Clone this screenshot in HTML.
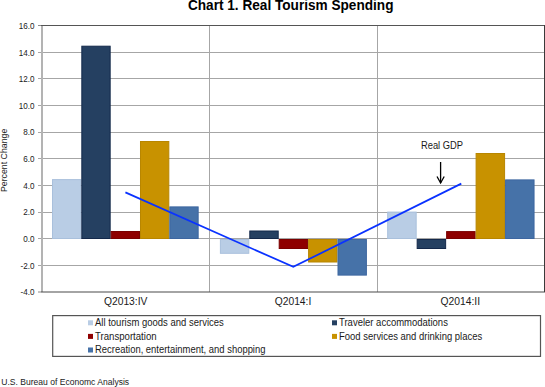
<!DOCTYPE html>
<html><head><meta charset="utf-8"><style>
html,body{margin:0;padding:0;background:#fff;}
svg{display:block;}
text{font-family:"Liberation Sans",sans-serif;fill:#1a1a1a;}
.yl{font-size:9px;}
.cl{font-size:10px;}
.pc{font-size:9px;}
.tt{font-size:13.8px;font-weight:bold;fill:#000;}
.lg{font-size:10px;}
.ft{font-size:9px;}
.rg{font-size:10.5px;}
</style></head><body>
<svg width="545" height="387" viewBox="0 0 545 387">
<rect x="38" y="52" width="506" height="1" fill="#A6A6A6"/>
<rect x="38" y="78" width="506" height="1" fill="#A6A6A6"/>
<rect x="38" y="105" width="506" height="1" fill="#A6A6A6"/>
<rect x="38" y="132" width="506" height="1" fill="#A6A6A6"/>
<rect x="38" y="158" width="506" height="1" fill="#A6A6A6"/>
<rect x="38" y="185" width="506" height="1" fill="#A6A6A6"/>
<rect x="38" y="212" width="506" height="1" fill="#A6A6A6"/>
<rect x="38" y="238" width="506" height="1" fill="#A6A6A6"/>
<rect x="38" y="265" width="506" height="1" fill="#A6A6A6"/>
<rect x="209" y="25" width="1" height="267" fill="#A6A6A6"/>
<rect x="377" y="25" width="1" height="267" fill="#A6A6A6"/>
<rect x="52.50" y="179.60" width="28.33" height="58.90" fill="#B9CDE5" stroke="#A9C0DC" stroke-width="1"/>
<rect x="81.83" y="46.20" width="28.33" height="192.30" fill="#254061" stroke="#13284A" stroke-width="1"/>
<rect x="111.16" y="231.50" width="28.33" height="7.00" fill="#8E0000" stroke="#7A0000" stroke-width="1"/>
<rect x="140.49" y="141.50" width="28.33" height="97.00" fill="#C89200" stroke="#B88600" stroke-width="1"/>
<rect x="169.82" y="206.90" width="28.33" height="31.60" fill="#4672A8" stroke="#3D66A0" stroke-width="1"/>
<rect x="220.40" y="239.50" width="28.40" height="13.80" fill="#B9CDE5" stroke="#A9C0DC" stroke-width="1"/>
<rect x="249.80" y="231.00" width="28.40" height="7.50" fill="#254061" stroke="#13284A" stroke-width="1"/>
<rect x="279.20" y="239.50" width="28.40" height="9.00" fill="#8E0000" stroke="#7A0000" stroke-width="1"/>
<rect x="308.60" y="239.50" width="28.40" height="22.50" fill="#C89200" stroke="#B88600" stroke-width="1"/>
<rect x="338.00" y="239.50" width="28.40" height="35.60" fill="#4672A8" stroke="#3D66A0" stroke-width="1"/>
<rect x="387.70" y="212.10" width="28.47" height="26.40" fill="#B9CDE5" stroke="#A9C0DC" stroke-width="1"/>
<rect x="417.17" y="239.50" width="28.47" height="9.00" fill="#254061" stroke="#13284A" stroke-width="1"/>
<rect x="446.64" y="231.60" width="28.47" height="6.90" fill="#8E0000" stroke="#7A0000" stroke-width="1"/>
<rect x="476.11" y="153.50" width="28.47" height="85.00" fill="#C89200" stroke="#B88600" stroke-width="1"/>
<rect x="505.58" y="179.90" width="28.47" height="58.60" fill="#4672A8" stroke="#3D66A0" stroke-width="1"/>
<rect x="41" y="25" width="2" height="267" fill="#B3B3B3"/>
<rect x="38" y="25" width="3" height="1" fill="#8A8A8A"/>
<rect x="41" y="25" width="504" height="1" fill="#555555"/>
<rect x="38" y="291.5" width="3" height="1" fill="#8A8A8A"/>
<rect x="41" y="291.5" width="504" height="1" fill="#4A4A4A"/>
<rect x="544" y="25" width="1" height="267" fill="#3A3A3A"/>
<polyline points="125.4,192.4 293.3,266.9 461.3,183.6" fill="none" stroke="#0A32FF" stroke-width="1.75" stroke-linejoin="miter"/>
<line x1="440.6" y1="162" x2="440.6" y2="183" stroke="#000" stroke-width="1.3"/>
<polyline points="437,176.5 440.6,183 444.2,176.5" fill="none" stroke="#000" stroke-width="1.3"/>
<text transform="translate(34.5,28.90) scale(0.9,1)" text-anchor="end" class="yl">16.0</text>
<text transform="translate(34.5,55.52) scale(0.9,1)" text-anchor="end" class="yl">14.0</text>
<text transform="translate(34.5,82.15) scale(0.9,1)" text-anchor="end" class="yl">12.0</text>
<text transform="translate(34.5,108.78) scale(0.9,1)" text-anchor="end" class="yl">10.0</text>
<text transform="translate(34.5,135.40) scale(0.9,1)" text-anchor="end" class="yl">8.0</text>
<text transform="translate(34.5,162.03) scale(0.9,1)" text-anchor="end" class="yl">6.0</text>
<text transform="translate(34.5,188.65) scale(0.9,1)" text-anchor="end" class="yl">4.0</text>
<text transform="translate(34.5,215.28) scale(0.9,1)" text-anchor="end" class="yl">2.0</text>
<text transform="translate(34.5,241.90) scale(0.9,1)" text-anchor="end" class="yl">0.0</text>
<text transform="translate(34.5,268.52) scale(0.9,1)" text-anchor="end" class="yl">-2.0</text>
<text transform="translate(34.5,295.15) scale(0.9,1)" text-anchor="end" class="yl">-4.0</text>
<text transform="translate(125.67,305.2) scale(1.03,1)" text-anchor="middle" class="cl">Q2013:IV</text>
<text transform="translate(293.00,305.2) scale(1.03,1)" text-anchor="middle" class="cl">Q2014:I</text>
<text transform="translate(460.33,305.2) scale(1.03,1)" text-anchor="middle" class="cl">Q2014:II</text>
<text transform="translate(7.0,160.4) rotate(-90) scale(0.975,1)" text-anchor="middle" class="pc">Percent Change</text>
<text transform="translate(290.7,9.9) scale(0.988,1)" text-anchor="middle" class="tt">Chart 1. Real Tourism Spending</text>
<text transform="translate(442,149.1) scale(0.891,1)" text-anchor="middle" class="rg">Real GDP</text>
<rect x="52.7" y="315.6" width="487.8" height="40.8" fill="none" stroke="#555" stroke-width="1.2"/>
<rect x="88" y="320.3" width="5" height="5" fill="#B9CDE5"/>
<text transform="translate(95,326.1) scale(0.95,1)" class="lg">All tourism goods and services</text>
<rect x="332" y="320.3" width="5" height="5" fill="#254061"/>
<text transform="translate(339,326.1) scale(0.95,1)" class="lg">Traveler accommodations</text>
<rect x="88" y="333.9" width="5" height="5" fill="#8E0000"/>
<text transform="translate(95,339.7) scale(0.962,1)" class="lg">Transportation</text>
<rect x="332" y="333.9" width="5" height="5" fill="#C89200"/>
<text transform="translate(339,339.7) scale(0.948,1)" class="lg">Food services and drinking places</text>
<rect x="88" y="347.5" width="5" height="5" fill="#4672A8"/>
<text transform="translate(95,353.3) scale(0.944,1)" class="lg">Recreation, entertainment, and shopping</text>
<text transform="translate(1.3,384.7) scale(0.952,1)" class="ft">U.S. Bureau of Economc Analysis</text>
</svg>
</body></html>
